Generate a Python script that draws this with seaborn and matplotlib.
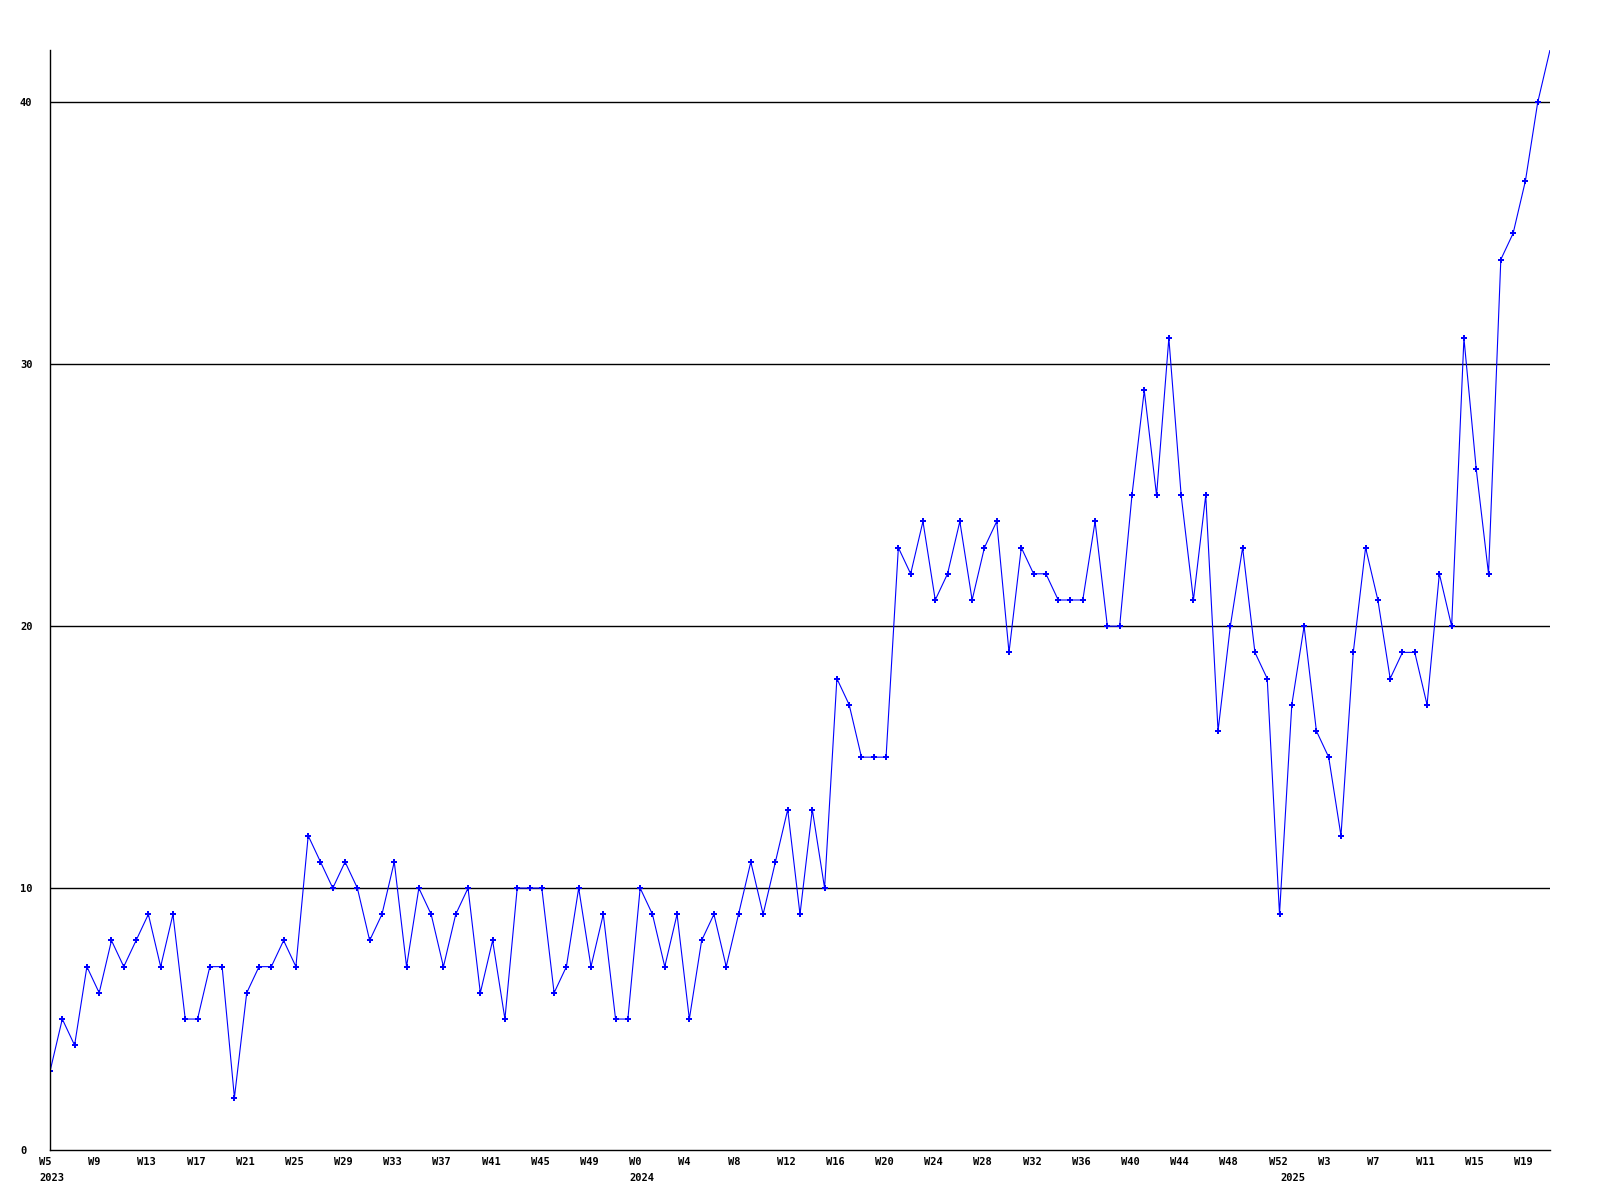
import matplotlib
matplotlib.use("Agg")
import matplotlib.pyplot as plt
import matplotlib.transforms as mtransforms
import pandas as pd
import seaborn as sns

# weekly counts, 2023 W5 .. 2025 W20
counts = [3, 5, 4, 7, 6, 8, 7, 8, 9, 7, 9, 5, 5, 7, 7, 2, 6, 7, 7, 8,
          7, 12, 11, 10, 11, 10, 8, 9, 11, 7, 10, 9, 7, 9, 10, 6, 8, 5, 10, 10,
          10, 6, 7, 10, 7, 9, 5, 5, 10, 9, 7, 9, 5, 8, 9, 7, 9, 11, 9, 11,
          13, 9, 13, 10, 18, 17, 15, 15, 15, 23, 22, 24, 21, 22, 24, 21, 23, 24, 19, 23,
          22, 22, 21, 21, 21, 24, 20, 20, 25, 29, 25, 31, 25, 21, 25, 16, 20, 23, 19, 18,
          9, 17, 20, 16, 15, 12, 19, 23, 21, 18, 19, 19, 17, 22, 20, 31, 26, 22, 34, 35,
          37, 40, 42]

week_labels = ["W5", "W9", "W13", "W17", "W21", "W25", "W29", "W33", "W37", "W41",
               "W45", "W49", "W0", "W4", "W8", "W12", "W16", "W20", "W24", "W28",
               "W32", "W36", "W40", "W44", "W48", "W52", "W3", "W7", "W11", "W15", "W19"]
year_labels = ["2023", "2024", "2025"]
year_pos = [0, 48, 101]
y_ticks = [0, 10, 20, 30, 40]

df = pd.DataFrame({"week": range(len(counts)), "count": counts})

sns.set_theme(style="white")
plt.rcParams["font.family"] = ["DejaVu Sans Mono", "DejaVu Sans"]

fig = plt.figure(figsize=(16, 12), dpi=100)
ax = fig.add_axes([50 / 1600, 50 / 1200, 1500 / 1600, 1100 / 1200])

# last point sits on the top edge; its marker is clipped in the original
sns.lineplot(data=df, x="week", y="count", ax=ax, color="#0000ff",
             linewidth=0.8, marker="P", markersize=4.5, markeredgewidth=0,
             markevery=list(range(len(counts) - 1)))

ax.set_xlim(0, len(counts) - 1)
ax.set_ylim(0, 42)
ax.set_xlabel("")
ax.set_ylabel("")

for v in y_ticks[1:]:
    ax.axhline(v, color="black", linewidth=1, zorder=0)

for side in ["top", "right"]:
    ax.spines[side].set_visible(False)
for side in ["left", "bottom"]:
    ax.spines[side].set_color("black")
    ax.spines[side].set_linewidth(1)

font = dict(fontsize=7.5, fontweight="bold", color="black")

ax.set_yticks(y_ticks)
ax.set_yticklabels([str(v) for v in y_ticks], ha="left", **font)
ax.tick_params(axis="y", length=0, pad=21.6)

ax.set_xticks(range(0, len(counts), 4))
ax.set_xticklabels(week_labels, ha="left", va="top", **font)
ax.tick_params(axis="x", length=0, pad=5)
shift = mtransforms.ScaledTranslation(-11 / 100, 0, fig.dpi_scale_trans)
for lab in ax.get_xticklabels():
    lab.set_transform(lab.get_transform() + shift)

trans = ax.get_xaxis_transform()
year_shift = mtransforms.ScaledTranslation(-11 / 100, -23 / 100, fig.dpi_scale_trans)
for pos, yr in zip(year_pos, year_labels):
    ax.text(pos, 0, yr, transform=trans + year_shift, ha="left", va="top", **font)

fig.savefig("out.png", dpi=100, facecolor="white")
